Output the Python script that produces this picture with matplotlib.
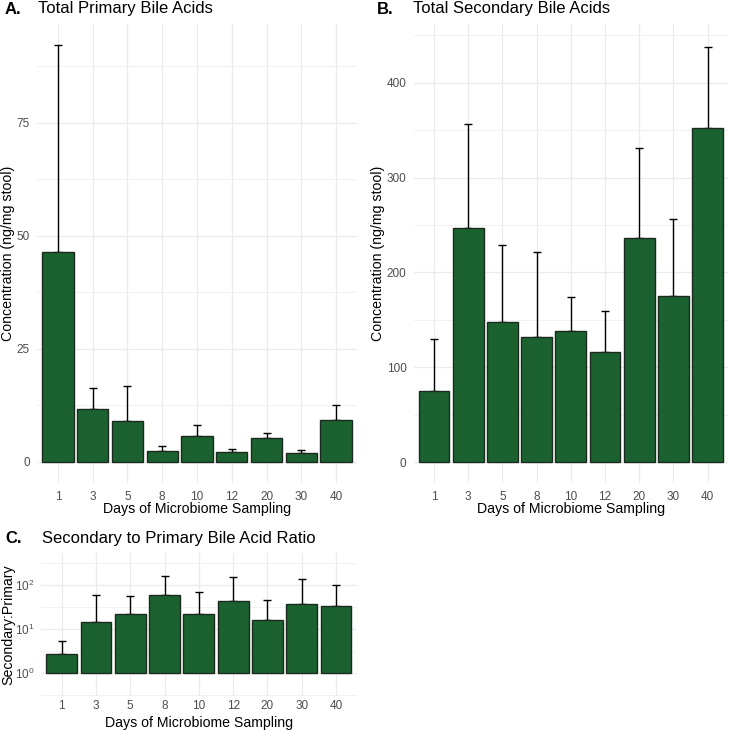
import numpy as np
import matplotlib
matplotlib.use('Agg')
import matplotlib.pyplot as plt
from matplotlib.ticker import FixedLocator, NullFormatter

plt.rcParams['font.family'] = ['Liberation Sans', 'DejaVu Sans']
plt.rcParams['mathtext.fontset'] = 'custom'
plt.rcParams['mathtext.rm'] = 'Liberation Sans'
plt.rcParams['mathtext.it'] = 'Liberation Sans'

# Days of sampling (categories)
days = ['1', '3', '5', '8', '10', '12', '20', '30', '40']

# Panel A: total primary bile acids (mean, upper error)
primary_mean = [46.4, 11.8, 9.1, 2.4, 5.8, 2.1, 5.2, 2.0, 9.2]
primary_upper = [92.3, 16.4, 16.8, 3.6, 8.2, 2.95, 6.4, 2.65, 12.6]

# Panel B: total secondary bile acids
secondary_mean = [74.7, 246.6, 147.4, 132.2, 138.2, 116.0, 236.4, 175.4, 351.8]
secondary_upper = [129.5, 356.7, 229.0, 221.7, 173.7, 159.0, 331.0, 255.8, 438.0]

# Panel C: secondary:primary ratio
ratio_mean = [2.7, 14.4, 22.0, 58.5, 22.3, 42.6, 16.0, 37.6, 33.0]
ratio_upper = [5.5, 59.0, 56.0, 160.0, 70.0, 149.0, 46.0, 139.0, 101.0]

bar_color = '#1c6230'
edge_color = '#1a2a1e'
grid_color = '#ebebeb'
tick_color = '#4d4d4d'

fig = plt.figure(figsize=(7.29, 7.30), dpi=100)
fig.patch.set_facecolor('white')

W, H = 729, 730


def px_axes(left, right, top, bottom):
    return fig.add_axes([left / W, 1 - bottom / H, (right - left) / W, (bottom - top) / H])


def style(ax, ylabel, ylab_x, xlab_y, xpad=6):
    x = np.arange(len(days))
    for s in ax.spines.values():
        s.set_visible(False)
    ax.set_xlim(-0.6, len(days) - 0.4)
    ax.set_xticks(x)
    ax.set_xticklabels(days)
    ax.tick_params(axis='both', which='both', length=0, labelsize=8.5,
                   labelcolor=tick_color, pad=5)
    ax.tick_params(axis='x', pad=xpad)
    ax.grid(True, which='major', color=grid_color, linewidth=0.9, zorder=0)
    ax.grid(True, which='minor', axis='y', color=grid_color, linewidth=0.5, zorder=0)
    ax.set_axisbelow(True)
    ax.set_xlabel('Days of Microbiome Sampling', fontsize=10.2, va='center')
    ax.set_ylabel(ylabel, fontsize=10.2, va='center')
    # place axis titles at fixed pixel positions
    bb = ax.get_position()
    ax.yaxis.set_label_coords(ylab_x / W, (bb.y0 + bb.y1) / 2, transform=fig.transFigure)
    ax.xaxis.set_label_coords((bb.x0 + bb.x1) / 2, 1 - xlab_y / H, transform=fig.transFigure)


def draw_bars(ax, mean, upper, base=0):
    x = np.arange(len(days))
    mean = np.array(mean)
    upper = np.array(upper)
    ax.errorbar(x, mean, yerr=[np.zeros_like(mean), upper - mean], fmt='none',
                ecolor='black', elinewidth=1.0, capsize=2.8, capthick=1.0, zorder=2)
    ax.bar(x, mean - base, bottom=base, width=0.9, color=bar_color,
           edgecolor=edge_color, linewidth=1.0, zorder=3)


# Panel A
axA = px_axes(37, 357, 24, 483)
draw_bars(axA, primary_mean, primary_upper)
style(axA, 'Concentration (ng/mg stool)', 8.5, 509)
axA.set_ylim(-4.65, 96.9)
axA.set_yticks([0, 25, 50, 75])
axA.yaxis.set_minor_locator(FixedLocator([12.5, 37.5, 62.5, 87.5]))

# Panel B
axB = px_axes(413.5, 728.2, 24, 483)
draw_bars(axB, secondary_mean, secondary_upper)
style(axB, 'Concentration (ng/mg stool)', 378.5, 509)
axB.set_ylim(-22, 461.9)
axB.set_yticks([0, 100, 200, 300, 400])
axB.yaxis.set_minor_locator(FixedLocator([50, 150, 250, 350, 450]))

# Panel C
axC = px_axes(41.1, 356.6, 553, 696)
axC.set_yscale('log')
draw_bars(axC, ratio_mean, ratio_upper, base=1)
style(axC, 'Secondary:Primary', 8.0, 722.5, xpad=3)
axC.set_ylim(10 ** -0.52, 10 ** 2.73)
axC.yaxis.set_major_locator(FixedLocator([1, 10, 100]))
axC.set_yticklabels(['$10^{0}$', '$10^{1}$', '$10^{2}$'])
axC.yaxis.set_minor_locator(FixedLocator([10 ** -0.5, 10 ** 0.5, 10 ** 1.5, 10 ** 2.5]))
axC.yaxis.set_minor_formatter(NullFormatter())

# Panel titles
title_size = 12
fig.text(5 / W, 1 - 9 / H, 'A.', fontsize=title_size, fontweight='bold', va='center', ha='left')
fig.text(38 / W, 1 - 9 / H, 'Total Primary Bile Acids', fontsize=title_size, va='center', ha='left')
fig.text(377 / W, 1 - 9 / H, 'B.', fontsize=title_size, fontweight='bold', va='center', ha='left')
fig.text(413 / W, 1 - 9 / H, 'Total Secondary Bile Acids', fontsize=title_size, va='center', ha='left')
fig.text(5 / W, 1 - 538.5 / H, 'C.', fontsize=title_size, fontweight='bold', va='center', ha='left')
fig.text(42 / W, 1 - 538.5 / H, 'Secondary to Primary Bile Acid Ratio', fontsize=title_size, va='center', ha='left')

fig.savefig('out.png', dpi=100)
